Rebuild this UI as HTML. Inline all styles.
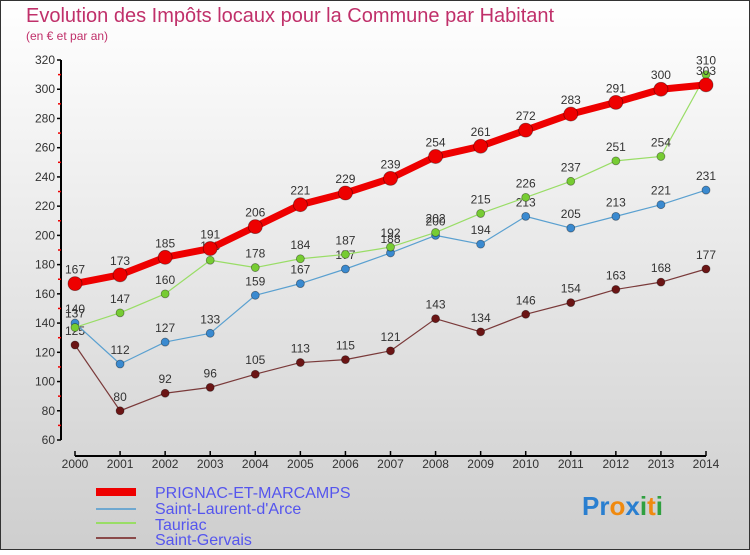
<!DOCTYPE html>
<html><head><meta charset="utf-8"><style>
html,body{margin:0;padding:0}
body{width:750px;height:550px;overflow:hidden;font-family:"Liberation Sans",sans-serif}
svg text{font-family:"Liberation Sans",sans-serif}
</style></head><body>
<svg id="chart" width="750" height="550" xmlns="http://www.w3.org/2000/svg">
<defs><linearGradient id="bg" x1="0" y1="0" x2="0" y2="1"><stop offset="0" stop-color="#ffffff"/><stop offset="1" stop-color="#cecece"/></linearGradient></defs>
<rect x="0.5" y="0.5" width="749" height="549" fill="url(#bg)" stroke="#333" stroke-width="1"/>
<text x="26" y="22" font-size="20" fill="#c0306a">Evolution des Impôts locaux pour la Commune par Habitant</text>
<text x="26" y="40" font-size="12" fill="#c0306a">(en € et par an)</text>
<g id="axes"></g><g id="series"></g>
<g font-size="16" fill="#5555ee">
<rect x="96" y="488" width="40" height="8" fill="#ee0000"/>
<text x="155" y="498">PRIGNAC-ET-MARCAMPS</text>
<rect x="96" y="508" width="40" height="2" fill="#6fa8d0"/>
<text x="155" y="514">Saint-Laurent-d'Arce</text>
<rect x="96" y="522" width="40" height="2" fill="#99dd66"/>
<text x="155" y="530">Tauriac</text>
<rect x="96" y="537" width="40" height="2" fill="#8a4a4a"/>
<text x="155" y="545">Saint-Gervais</text>
</g>
<text x="582" y="515" font-size="26" font-weight="bold"><tspan fill="#2a7fd0">Pr</tspan><tspan fill="#f08a10">o</tspan><tspan fill="#2a7fd0">x</tspan><tspan fill="#30a040">i</tspan><tspan fill="#f08a10">t</tspan><tspan fill="#30a040">i</tspan></text>
</svg>
<script>
const years=[2000,2001,2002,2003,2004,2005,2006,2007,2008,2009,2010,2011,2012,2013,2014];
const yTicks=[60,80,100,120,140,160,180,200,220,240,260,280,300,320];
const prignac=[167,173,185,191,206,221,229,239,254,261,272,283,291,300,303];
const saintLaurent=[140,112,127,133,159,167,177,188,200,194,213,205,213,221,231];
const tauriac=[137,147,160,183,178,184,187,192,202,215,226,237,251,254,310];
const saintGervais=[125,80,92,96,105,113,115,121,143,134,146,154,163,168,177];
const NS="http://www.w3.org/2000/svg";
const x=i=>75+i*(706-75)/(years.length-1);
const y=v=>60+(320-v)*380/260;
function mk(tag,attrs,parent){const e=document.createElementNS(NS,tag);for(const k in attrs)e.setAttribute(k,attrs[k]);parent.appendChild(e);return e;}
const axes=document.getElementById('axes');
let a=mk('line',{x1:61,y1:y(320),x2:61,y2:y(60),stroke:'#000','stroke-width':2},axes);


yTicks.forEach((v,k)=>{
 let t=mk('line',{x1:57,y1:y(v),x2:61,y2:y(v),stroke:'#000','stroke-width':1.5},axes);
 
 
 let l=mk('text',{x:55,y:y(v)+4,'text-anchor':'end','font-size':12,fill:'#333'},axes);
 
 
 l.textContent=v;
 if(k<yTicks.length-1){let m=mk('line',{x1:58,y1:y(v+10),x2:61,y2:y(v+10),stroke:'#e00','stroke-width':1.5},axes);
 
 }
});
a=mk('line',{x1:75,y1:456,x2:706,y2:456,stroke:'#000','stroke-width':2},axes);


years.forEach((yr,i)=>{
 let t=mk('line',{x1:x(i),y1:451,x2:x(i),y2:456,stroke:'#000','stroke-width':1.5},axes);
 
 
 let l=mk('text',{x:x(i),y:468,'text-anchor':'middle','font-size':12,fill:'#333'},axes);
 
 
 l.textContent=yr;
});
const ser=document.getElementById('series');
function draw(vals,name,color,lw,r,dot){
 const g=mk('g',{},ser);
 
 
 const p=mk('polyline',{points:vals.map((v,i)=>x(i)+','+y(v)).join(' '),fill:'none',stroke:color,'stroke-width':lw,'stroke-linejoin':'round'},g);
 
 
 vals.forEach((v,i)=>{
  const c=mk('circle',{cx:x(i),cy:y(v),r:r,fill:dot,stroke:'rgba(0,0,0,0.4)','stroke-width':0.8},g);
  
  
  const t=mk('text',{x:x(i),y:y(v)-10,'text-anchor':'middle','font-size':12,fill:'#333'},g);
  
  
  t.textContent=v;
 });
}
draw(saintGervais,'saint-gervais','#7a3a3a',1.2,4,'#6b1515');
draw(saintLaurent,'saint-laurent','#5aa0d0',1.2,4,'#3a8ad0');
draw(tauriac,'tauriac','#99dd66',1.2,4,'#77cc33');
draw(prignac,'prignac','#ee0000',7,7,'#ee0000');
</script>
</body></html>
